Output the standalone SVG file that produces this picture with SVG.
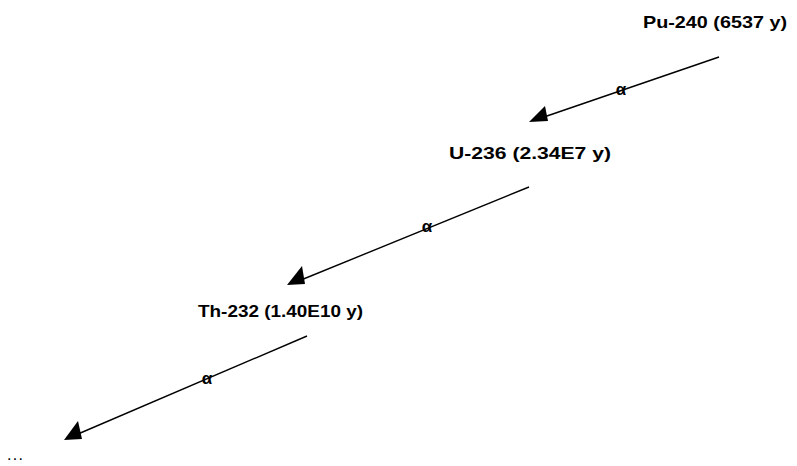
<svg xmlns="http://www.w3.org/2000/svg" width="797" height="466" viewBox="0 0 797 466">
  <style>
    .label { font-family: "Liberation Sans", Arial, sans-serif; font-size: 17px; font-weight: bold; fill: #000; }
    .alpha { font-family: "Liberation Sans", Arial, sans-serif; font-size: 17px; font-weight: bold; fill: #000; text-anchor: middle; }
    .dots { font-family: "Liberation Sans", Arial, sans-serif; font-size: 16px; fill: #000; }
    .edge { stroke: #000; stroke-width: 1.4; fill: none; }
    .head { fill: #000; stroke: none; }
  </style>
  <rect width="797" height="466" fill="#fff"/>

  <!-- decay chain nuclides -->
  <g id="pu240">
    <text class="label" x="643" y="28" textLength="144" lengthAdjust="spacingAndGlyphs">Pu-240 (6537 y)</text>
  </g>
  <g id="u236">
    <text class="label" x="449" y="159" textLength="162" lengthAdjust="spacingAndGlyphs">U-236 (2.34E7 y)</text>
  </g>
  <g id="th232">
    <text class="label" x="198" y="317" textLength="165" lengthAdjust="spacingAndGlyphs">Th-232 (1.40E10 y)</text>
  </g>
  <g id="more">
    <text class="dots" x="7" y="460" textLength="16" lengthAdjust="spacing">...</text>
  </g>

  <!-- alpha-decay arrows -->
  <g id="connectors">
    <line class="edge" x1="719" y1="57" x2="544" y2="117"/>
    <polygon class="head" points="529,122 545,106 548,121"/>
    <text class="alpha" x="621" y="95">α</text>

    <line class="edge" x1="529" y1="187" x2="301" y2="280"/>
    <polygon class="head" points="287,285 302,266 305,284"/>
    <text class="alpha" x="427" y="232">α</text>

    <line class="edge" x1="307" y1="336" x2="78" y2="434"/>
    <polygon class="head" points="64,440 78,421 82,439"/>
    <text class="alpha" x="207" y="384">α</text>
  </g>
</svg>
